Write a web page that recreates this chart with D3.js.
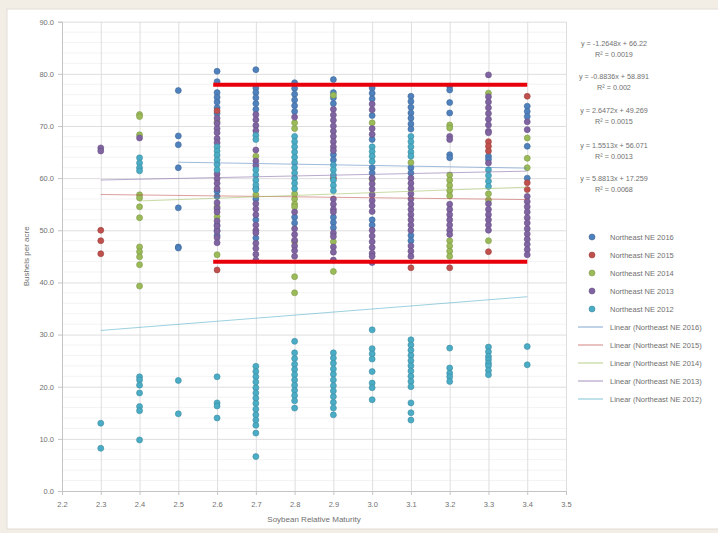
<!DOCTYPE html>
<html>
<head>
<meta charset="utf-8">
<script src="https://cdn.jsdelivr.net/npm/d3@7"></script>
<style>
  html, body { margin: 0; padding: 0; background: #f3eee5; }
  svg { display: block; font-family: "Liberation Sans", Arial, sans-serif; }
</style>
</head>
<body>
<svg id="chart" width="718" height="533"></svg>
<script>
// axis ticks
const xTicks = d3.range(22, 36).map((d) => d / 10);
const yTicks = d3.range(0, 100, 10);
const yMinorTicks = d3.range(0, 92, 2);

const seriesNames = ["Northeast NE 2016", "Northeast NE 2015", "Northeast NE 2014", "Northeast NE 2013", "Northeast NE 2012"];
const seriesColors = ["#4f81bd", "#c0504d", "#9bbb59", "#8064a2", "#4bacc6"];

// [relative maturity, [bushels per acre ...]]
const pts2016 = [
  [2.5, [76.8, 68.1, 66.4, 62, 54.3, 46.8, 46.6]],
  [2.6, [80.5, 78.5, 76.4, 75.5, 74.6, 73.5, 72.4, 57.5, 56.5, 51, 50, 49]],
  [2.7, [80.8, 77.3, 76.4, 75.4, 74.3, 73.2, 58, 56, 52, 48.5]],
  [2.8, [78.3, 77.2, 76.1, 75, 73.9, 72.8, 52.5, 51.4]],
  [2.9, [78.9, 76.4, 75.4, 74.3, 64.5, 63.5, 52.5, 51.5, 50.5]],
  [3.0, [77.3, 76.3, 75.2, 72, 67.4, 62, 61, 52, 51]],
  [3.1, [75.7, 74.7, 73.6, 72.5, 71.5, 70.4, 69.4, 62, 61, 49, 48]],
  [3.2, [77.6, 76.9, 74.5, 72.5, 64.5, 63.9]],
  [3.3, [64.2, 63.6]],
  [3.4, [73.8, 72.8, 71.8, 66.1, 60]],
];
const pts2015 = [
  [2.3, [50, 48, 45.5]],
  [2.6, [72.9, 42.4]],
  [2.9, [60]],
  [3.1, [42.8]],
  [3.2, [42.8]],
  [3.3, [67, 66.1, 65.2, 45.9]],
  [3.4, [75.7, 59.1, 57.8]],
];
const pts2014 = [
  [2.4, [72.2, 71.8, 68.3, 56.8, 56.2, 54.5, 52.4, 46.8, 45.9, 44.9, 43.4, 39.3]],
  [2.6, [70.8, 54.5, 52.6, 45.3]],
  [2.7, [64.2, 56.8]],
  [2.8, [70.6, 69.5, 57, 56, 55, 54.5, 47.8, 41.1, 38]],
  [2.9, [75.9, 47.8, 42.1]],
  [3.0, [70.6, 59.8]],
  [3.1, [63]],
  [3.2, [70.2, 69.6, 60.6, 59.6, 58.6, 57.6, 56.6, 48, 47, 46, 45]],
  [3.3, [76.3, 57, 55.8, 48]],
  [3.4, [67.7, 63.8, 62]],
];
const pts2013 = [
  [2.3, [65.8, 65.2]],
  [2.4, [67.7]],
  [2.6, [71.5, 70.5, 69.5, 68.7, 67.6, 66.8, 60.8, 59.9, 59, 58, 55.3, 54.2, 53.5, 51.8, 50.8, 49.8, 48.6, 47.6]],
  [2.7, [72.2, 71.2, 70.1, 69.1, 65.4, 63.3, 62.4, 55.1, 54.1, 53, 51, 50, 49.5, 47.5, 46.5, 45.4, 44.3]],
  [2.8, [71.7, 53.5, 50.3, 49.2, 48.1, 47, 46.1, 45]],
  [2.9, [73.2, 72.1, 71.1, 70, 69, 68, 67, 66, 65.3, 56, 55, 54, 53.5, 49.5, 48.8, 46.8, 45.8, 44.3]],
  [3.0, [74.2, 73.1, 69.5, 68.4, 60, 58.9, 57.9, 56.8, 55.7, 54.7, 53.6, 50, 48.9, 47.8, 46.7, 45.6, 45, 43.8]],
  [3.1, [60, 59, 58, 57, 56, 55, 54, 53, 52, 51, 50, 47, 46, 45]],
  [3.2, [68, 67.4, 55, 54, 53, 52, 51, 50, 49.2]],
  [3.3, [79.8, 75.6, 74.6, 73.5, 72.4, 71.3, 70.2, 69, 68.7, 62.9, 55.1, 54, 53, 52, 51, 50]],
  [3.4, [70.8, 69.3, 56.5, 55.5, 54.5, 53.5, 52.4, 51.4, 50.3, 49.3, 48.3, 47.3, 46.3, 45.3]],
];
const pts2012 = [
  [2.3, [13, 8.2]],
  [2.4, [63.9, 62.9, 62, 61.4, 21.9, 21.3, 20.3, 18.8, 16.2, 15.4, 9.8]],
  [2.5, [21.2, 14.8]],
  [2.6, [66, 65.2, 64.4, 63.5, 62.6, 61.6, 21.9, 16.9, 16.3, 14]],
  [2.7, [68.2, 67.4, 61.6, 60.6, 59.6, 58.7, 57.8, 23.9, 22.9, 21.9, 20.9, 19.8, 18.8, 17.8, 16.8, 15.7, 14.6, 13.6, 12.6, 11.1, 6.6]],
  [2.8, [68, 67, 66, 65, 64, 63, 62, 61, 60, 59, 58, 28.7, 26.5, 25.4, 24.3, 23.3, 22.3, 21.3, 20.3, 19.3, 18.3, 17.3, 15.9]],
  [2.9, [62.5, 61.6, 60.6, 59.6, 58.6, 57.6, 26.5, 25.5, 24.5, 23.4, 22.4, 21.3, 20.2, 19.2, 18.1, 17, 15.9, 14.6]],
  [3.0, [66, 65.1, 64.2, 63.2, 30.9, 27.3, 26.3, 25.3, 22.9, 20.7, 19.8, 17.5]],
  [3.1, [68, 67, 66, 65, 64.2, 29, 28, 27, 26, 25, 24, 23, 22, 21, 20, 16.9, 15, 13.6]],
  [3.2, [27.4, 23.6, 22.6, 21.9, 21]],
  [3.3, [61.6, 60.5, 59.4, 58.4, 27.6, 26.7, 25.8, 25.2, 24.5, 24, 23.1, 22.3]],
  [3.4, [27.7, 24.2]],
];
const seriesPoints = [pts2016, pts2015, pts2014, pts2013, pts2012];

// linear trendlines
const trendSlopes = [-1.2648, -0.8836, 2.6472, 1.5513, 5.8813];
const trendIntercepts = [66.22, 58.891, 49.269, 56.071, 17.259];
const trendEquations = [
  "y = -1.2648x + 66.22", "y = -0.8836x + 58.891", "y = 2.6472x + 49.269",
  "y = 1.5513x + 56.071", "y = 5.8813x + 17.259",
];
const trendR2 = ["R² = 0.0019", "R² = 0.002", "R² = 0.0015", "R² = 0.0013", "R² = 0.0068"];

// red highlight band drawn over the chart
const highlightX = [2.59, 3.4];
const highlightY = [77.9, 43.95];

const svg = d3.select("#chart");
const textColor = "#707070";

svg.append("rect")
  .attr("x", 7).attr("y", 9).attr("width", 712).attr("height", 520)
  .attr("fill", "#ffffff").attr("stroke", "#e2ddd5");

const x = d3.scaleLinear().domain([2.2, 3.5]).range([62, 566]);
const y = d3.scaleLinear().domain([0, 90]).range([491, 21.7]);

// minor and major gridlines
svg.append("g")
  .selectAll("line")
  .data(yMinorTicks.filter((d) => d % 10 !== 0))
  .join("line")
  .attr("x1", x(2.2)).attr("x2", x(3.5))
  .attr("y1", (d) => y(d)).attr("y2", (d) => y(d))
  .attr("stroke", "#f3f3f3");

svg.append("g")
  .call(d3.axisLeft(y).tickValues(yTicks).tickSize(-(x(3.5) - x(2.2))).tickFormat(() => ""))
  .attr("transform", `translate(${x(2.2)},0)`)
  .call((g) => g.select(".domain").remove())
  .selectAll(".tick line").attr("stroke", "#dedede");

svg.append("g")
  .call(d3.axisBottom(x).tickValues(xTicks).tickSize(-(y(0) - y(90))).tickFormat(() => ""))
  .attr("transform", `translate(0,${y(0)})`)
  .call((g) => g.select(".domain").remove())
  .selectAll(".tick line").attr("stroke", "#dedede");

// axes
const xAxis = svg.append("g")
  .attr("transform", `translate(0,${y(0)})`)
  .call(d3.axisBottom(x).tickValues(xTicks).tickSize(4).tickPadding(7).tickFormat(d3.format(".1f")));
const yAxis = svg.append("g")
  .attr("transform", `translate(${x(2.2)},0)`)
  .call(d3.axisLeft(y).tickValues(yTicks).tickSize(4).tickPadding(4).tickFormat(d3.format(".1f")));
[xAxis, yAxis].forEach((g) => {
  g.select(".domain").attr("stroke", "#c4c4c4");
  g.selectAll(".tick line").attr("stroke", "#c4c4c4");
  g.selectAll("text").attr("fill", textColor).attr("font-size", "7.5px")
    .attr("font-family", "Liberation Sans, Arial, sans-serif");
});

svg.append("text")
  .attr("x", (x(2.2) + x(3.5)) / 2).attr("y", 522)
  .attr("text-anchor", "middle").attr("fill", textColor).attr("font-size", "8px")
  .text("Soybean Relative Maturity");

svg.append("text")
  .attr("transform", `translate(29,${(y(0) + y(90)) / 2}) rotate(-90)`)
  .attr("text-anchor", "middle").attr("fill", textColor).attr("font-size", "8px")
  .text("Bushels per acre");

// scatter points
const flat = seriesPoints.map((pts, i) =>
  pts.flatMap(([mx, ys]) => ys.map((v) => ({ s: i, x: mx, y: v }))));

flat.forEach((pts, i) => {
  svg.append("g")
    .selectAll("circle")
    .data(pts)
    .join("circle")
    .attr("cx", (d) => x(d.x))
    .attr("cy", (d) => y(d.y))
    .attr("r", 3)
    .attr("fill", seriesColors[i])
    .attr("stroke", d3.color(seriesColors[i]).darker(0.6))
    .attr("stroke-width", 0.6);
});

// trendlines
flat.forEach((pts, i) => {
  const [x0, x1] = d3.extent(pts, (d) => d.x);
  svg.append("line")
    .attr("x1", x(x0)).attr("x2", x(x1))
    .attr("y1", y(trendSlopes[i] * x0 + trendIntercepts[i]))
    .attr("y2", y(trendSlopes[i] * x1 + trendIntercepts[i]))
    .attr("stroke", seriesColors[i])
    .attr("stroke-opacity", 0.55)
    .attr("stroke-width", 1);
});

// red highlight lines
highlightY.forEach((v) => {
  svg.append("line")
    .attr("x1", x(highlightX[0])).attr("x2", x(highlightX[1]))
    .attr("y1", y(v)).attr("y2", y(v))
    .attr("stroke", "#e8000b").attr("stroke-width", 4);
});

// trendline equations
const eqY = [43, 76, 110, 145, 178];
trendEquations.forEach((t, i) => {
  svg.append("text")
    .attr("x", 614).attr("y", eqY[i] + 3)
    .attr("text-anchor", "middle").attr("fill", textColor).attr("font-size", "7.2px")
    .text(t);
  svg.append("text")
    .attr("x", 614).attr("y", eqY[i] + 14)
    .attr("text-anchor", "middle").attr("fill", textColor).attr("font-size", "7.2px")
    .text(trendR2[i]);
});

// legend
const legend = svg.append("g").attr("transform", "translate(0,237)");
seriesNames.forEach((name, i) => {
  const row = legend.append("g").attr("transform", `translate(0,${i * 18})`);
  row.append("circle")
    .attr("cx", 592).attr("cy", 0).attr("r", 3)
    .attr("fill", seriesColors[i])
    .attr("stroke", d3.color(seriesColors[i]).darker(0.6)).attr("stroke-width", 0.6);
  row.append("text")
    .attr("x", 610).attr("y", 3).attr("fill", textColor).attr("font-size", "7.5px")
    .text(name);
});
seriesNames.forEach((name, i) => {
  const row = legend.append("g").attr("transform", `translate(0,${(i + 5) * 18})`);
  row.append("line")
    .attr("x1", 578).attr("x2", 603).attr("y1", 0).attr("y2", 0)
    .attr("stroke", seriesColors[i]).attr("stroke-opacity", 0.7).attr("stroke-width", 1);
  row.append("text")
    .attr("x", 610).attr("y", 3).attr("fill", textColor).attr("font-size", "7.5px")
    .text(`Linear (${name})`);
});
</script>
</body>
</html>
